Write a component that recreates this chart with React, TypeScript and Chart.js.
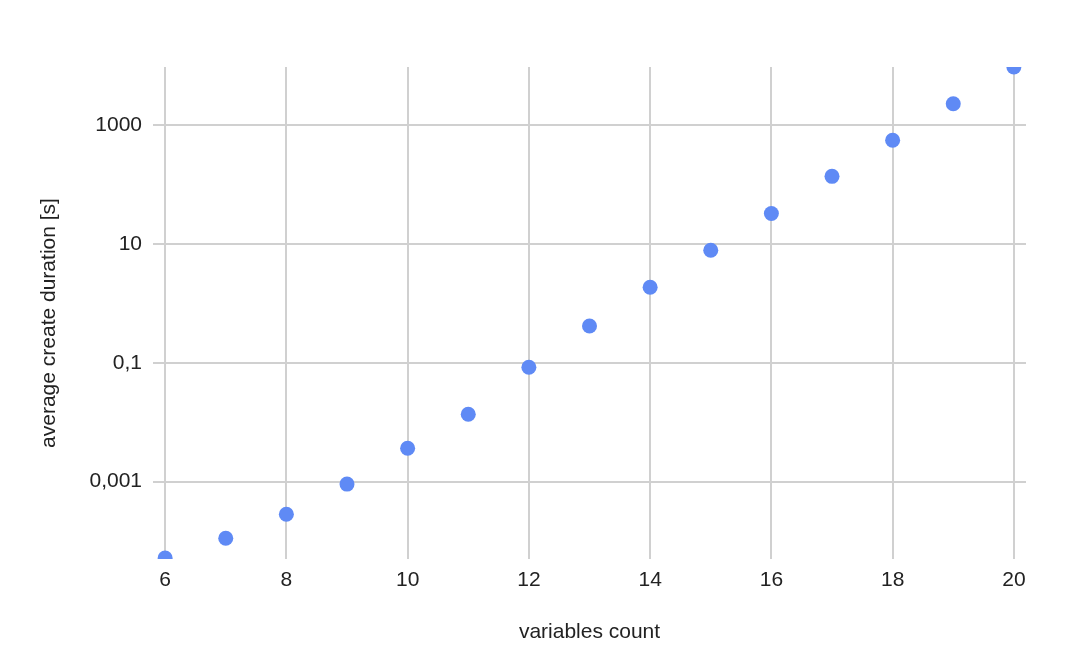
import React, { useEffect, useRef } from "react";
import { Chart, registerables } from "chart.js";

Chart.register(...registerables);

const variablesCount = [6, 7, 8, 9, 10, 11, 12, 13, 14, 15, 16, 17, 18, 19, 20];
const avgCreateDuration = [
  5.19e-5, 1.12e-4, 2.83e-4, 9.1e-4, 3.65e-3, 0.0136, 0.084, 0.416, 1.86, 7.8,
  32.4, 137, 553, 2281, 9500,
];
const xTickValues = [6, 8, 10, 12, 14, 16, 18, 20];
const yTickValues = [0.001, 0.1, 10, 1000];
const xTitle = "variables count";
const yTitle = "average create duration [s]";

const FONT = "'Liberation Sans', Arial, sans-serif";
const FONT_SIZE = 21;
const TEXT = "#222222";
const GRID = "#d0d0d0";
const POINT = "#5f8af5";

const yTitlePlugin = {
  id: "yTitlePlugin",
  afterDraw(chart: any) {
    const { ctx, chartArea } = chart;
    ctx.save();
    ctx.font = `${FONT_SIZE}px ${FONT}`;
    ctx.fillStyle = TEXT;
    ctx.textAlign = "center";
    ctx.textBaseline = "middle";
    ctx.translate(49, (chartArea.top + chartArea.bottom) / 2 + 10);
    ctx.rotate(-Math.PI / 2);
    ctx.fillText(yTitle, 0, 0);
    ctx.restore();
  },
};

export default function App() {
  const ref = useRef<HTMLCanvasElement | null>(null);

  useEffect(() => {
    if (!ref.current) return;
    const chart = new Chart(ref.current, {
      type: "scatter",
      data: {
        datasets: [
          {
            data: variablesCount.map((x, i) => ({ x, y: avgCreateDuration[i] })),
            backgroundColor: POINT,
            borderColor: POINT,
            borderWidth: 0,
            pointRadius: 7.5,
            pointHoverRadius: 7.5,
            clip: 0,
          },
        ],
      },
      options: {
        responsive: false,
        animation: false,
        devicePixelRatio: 1,
        layout: { padding: { top: 67, right: 49, left: 0, bottom: 0 } },
        plugins: { legend: { display: false }, tooltip: { enabled: false } },
        scales: {
          x: {
            type: "linear",
            min: 5.8,
            max: 20.2,
            afterBuildTicks: (scale: any) => {
              scale.ticks = xTickValues.map((v) => ({ value: v }));
            },
            afterFit: (scale: any) => {
              scale.height = 110;
            },
            grid: { color: GRID, lineWidth: 2, drawTicks: false },
            border: { display: false },
            ticks: {
              color: TEXT,
              font: { family: FONT, size: FONT_SIZE },
              padding: 9,
              maxRotation: 0,
              callback: (v: any) => String(v),
            },
            title: {
              display: true,
              text: xTitle,
              color: TEXT,
              font: { family: FONT, size: FONT_SIZE },
              padding: { top: 0, bottom: 24 },
            },
          },
          y: {
            type: "logarithmic",
            min: 5.0e-5,
            max: 9460,
            afterBuildTicks: (scale: any) => {
              scale.ticks = yTickValues.map((v) => ({ value: v }));
            },
            afterFit: (scale: any) => {
              scale.width = 153;
            },
            grid: { color: GRID, lineWidth: 2, drawTicks: false },
            border: { display: false },
            ticks: {
              color: TEXT,
              font: { family: FONT, size: FONT_SIZE },
              padding: 11,
              callback: (v: any) => String(v).replace(".", ","),
            },
            title: { display: false },
          },
        },
      },
      plugins: [yTitlePlugin],
    });
    return () => chart.destroy();
  }, []);

  return (
    <div style={{ position: "absolute", left: 0, top: 0, width: 1075, height: 669, background: "#fff" }}>
      <canvas ref={ref} width={1075} height={669} />
    </div>
  );
}
